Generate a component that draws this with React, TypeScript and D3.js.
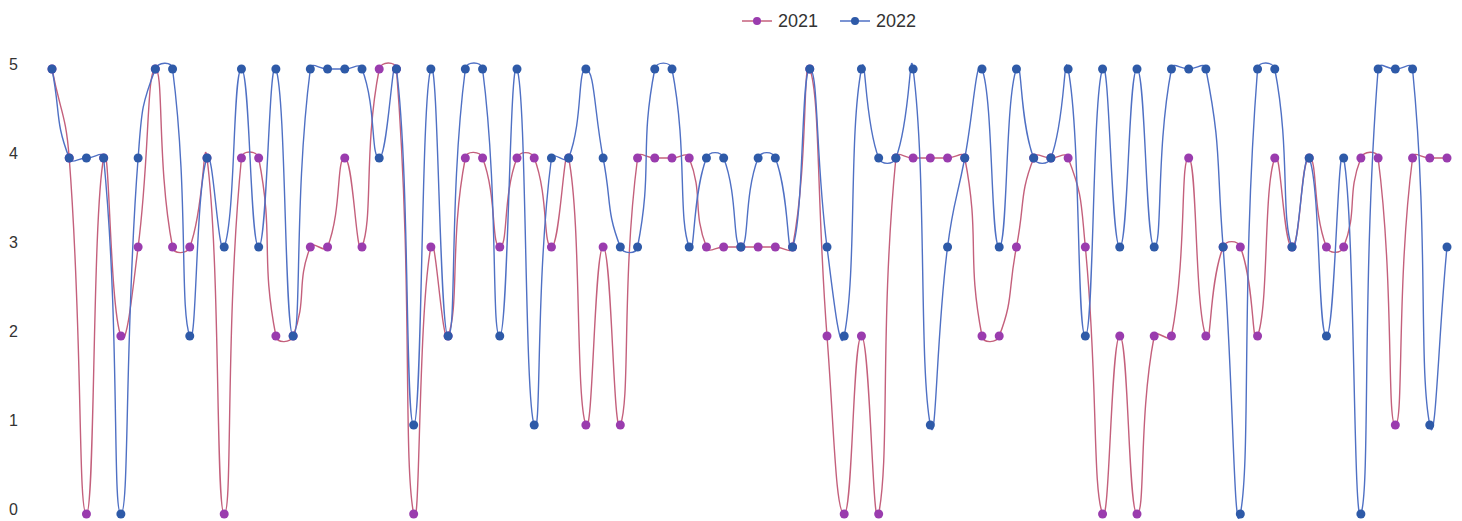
import React from "react";
import * as d3 from "d3";

const categories: number[] = Array.from({ length: 82 }, (_, i) => i + 1);
const series2021: number[] = [5,4,0,4,2,3,5,3,3,4,0,4,4,2,2,3,3,4,3,5,5,0,3,2,4,4,3,4,4,3,4,1,3,1,4,4,4,4,3,3,3,3,3,3,5,2,0,2,0,4,4,4,4,4,2,2,3,4,4,4,3,0,2,0,2,2,4,2,3,3,2,4,3,4,3,3,4,4,1,4,4,4];
const series2022: number[] = [5,4,4,4,0,4,5,5,2,4,3,5,3,5,2,5,5,5,5,4,5,1,5,2,5,5,2,5,1,4,4,5,4,3,3,5,5,3,4,4,3,4,4,3,5,3,2,5,4,4,5,1,3,4,5,3,5,4,4,5,2,5,3,5,3,5,5,5,3,0,5,5,3,4,2,4,0,5,5,5,1,3];
const yTicks: number[] = [0, 1, 2, 3, 4, 5];
const seriesNames: string[] = ["2021", "2022"];

const W = 1462;
const H = 521;

function curveSmooth(context: any) {
  let pts: [number, number][] = [];
  const smooth = 0.5;
  return {
    areaStart() {},
    areaEnd() {},
    lineStart() { pts = []; },
    point(x: number, y: number) { pts.push([+x, +y]); },
    lineEnd() {
      const n = pts.length;
      if (!n) return;
      const cps: { c0: [number, number]; c1: [number, number] }[] = [];
      for (let i = 0; i < n; i++) {
        const p = pts[i];
        const prev = pts[i - 1] || p;
        const next = pts[i + 1] || p;
        const vx = (next[0] - prev[0]) * smooth;
        const vy = (next[1] - prev[1]) * smooth;
        let d0 = Math.hypot(p[0] - prev[0], p[1] - prev[1]);
        let d1 = Math.hypot(next[0] - p[0], next[1] - p[1]);
        const s = d0 + d1;
        if (s > 0) { d0 /= s; d1 /= s; }
        cps.push({ c0: [p[0] - vx * d0, p[1] - vy * d0], c1: [p[0] + vx * d1, p[1] + vy * d1] });
      }
      context.moveTo(pts[0][0], pts[0][1]);
      for (let i = 0; i < n - 1; i++) {
        const a = cps[i].c1;
        const b = cps[i + 1].c0;
        const q = pts[i + 1];
        context.bezierCurveTo(a[0], a[1], b[0], b[1], q[0], q[1]);
      }
    },
  };
}

export default function App() {
  const x = d3.scaleLinear().domain([1, categories.length]).range([52, 1447]);
  const y = d3.scaleLinear().domain([0, 5]).range([514, 69]);

  const mk = (vals: number[]) =>
    d3.line<number>().x((_, i) => x(categories[i])).y((d) => y(d)).curve(curveSmooth as any)(vals) || "";

  const series = [
    { name: seriesNames[0], vals: series2021, line: "#c4607c", dot: "#9a3cae" },
    { name: seriesNames[1], vals: series2022, line: "#4f70c4", dot: "#2e5aa8" },
  ];

  const legendX = [742, 840];

  return (
    <svg width={W} height={H} style={{ position: "absolute", left: 0, top: 0, background: "#fff" }}
      fontFamily="Liberation Sans, Arial, sans-serif">
      {yTicks.map((t) => (
        <text key={t} x={18} y={y(t) + 1} textAnchor="end" fontSize={16} fill="#333">
          {t}
        </text>
      ))}
      {series.map((s) => (
        <path key={s.name} d={mk(s.vals)} fill="none" stroke={s.line} strokeWidth={1.4} />
      ))}
      {series.map((s) =>
        s.vals.map((v, i) => (
          <circle key={s.name + i} cx={x(categories[i])} cy={y(v)} r={4.5} fill={s.dot} />
        ))
      )}
      {series.map((s, k) => (
        <g key={"lg" + s.name} transform={`translate(${legendX[k]},21)`}>
          <line x1={0} x2={30} y1={0} y2={0} stroke={s.line} strokeWidth={1.5} />
          <circle cx={15} cy={0} r={4} fill={s.dot} />
          <text x={36} y={0} dy="0.36em" fontSize={18} fill="#333">{s.name}</text>
        </g>
      ))}
    </svg>
  );
}
